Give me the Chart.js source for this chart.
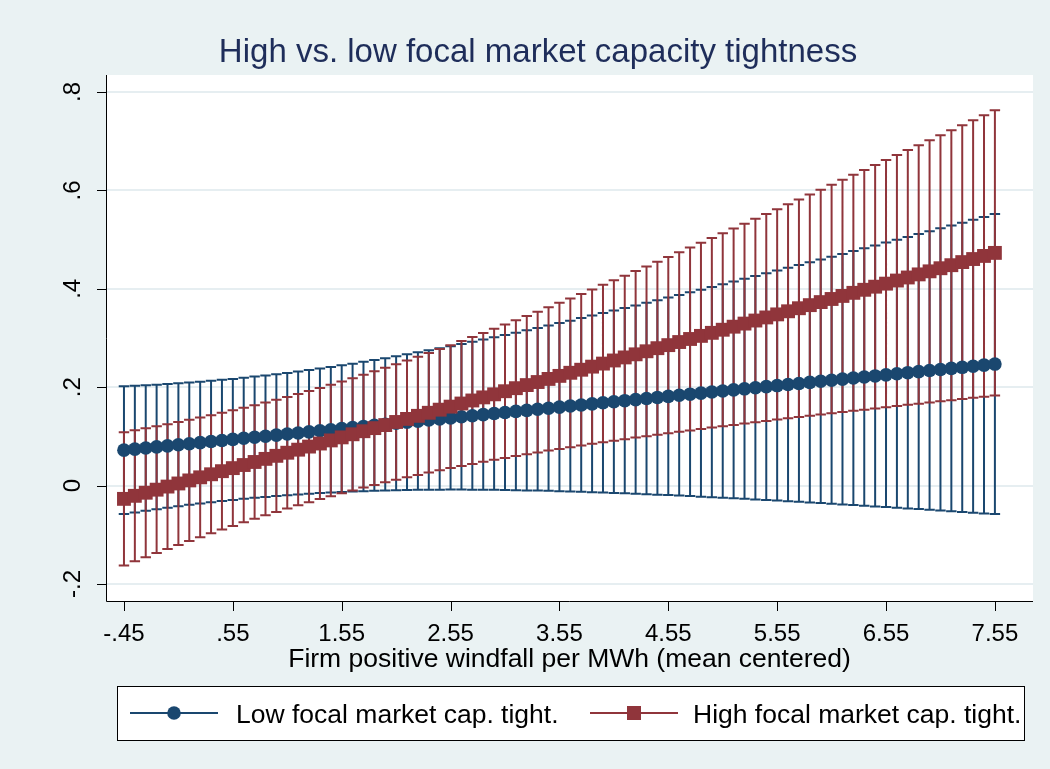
<!DOCTYPE html>
<html>
<head>
<meta charset="utf-8">
<title>High vs. low focal market capacity tightness</title>
<script src="https://cdn.jsdelivr.net/npm/chart.js@4.4.1/dist/chart.umd.min.js"></script>
<style>
  html, body { margin: 0; padding: 0; background: #eaf2f3; }
  canvas { display: block; }
</style>
</head>
<body>
<canvas id="chart" width="1050" height="769"></canvas>
<script>
// Values of the windfall variable at which the margins are evaluated
const xValues = [
  -0.45, -0.35, -0.25, -0.15, -0.05, 0.05, 0.15, 0.25, 0.35, 0.45,
  0.55, 0.65, 0.75, 0.85, 0.95, 1.05, 1.15, 1.25, 1.35, 1.45,
  1.55, 1.65, 1.75, 1.85, 1.95, 2.05, 2.15, 2.25, 2.35, 2.45,
  2.55, 2.65, 2.75, 2.85, 2.95, 3.05, 3.15, 3.25, 3.35, 3.45,
  3.55, 3.65, 3.75, 3.85, 3.95, 4.05, 4.15, 4.25, 4.35, 4.45,
  4.55, 4.65, 4.75, 4.85, 4.95, 5.05, 5.15, 5.25, 5.35, 5.45,
  5.55, 5.65, 5.75, 5.85, 5.95, 6.05, 6.15, 6.25, 6.35, 6.45,
  6.55, 6.65, 6.75, 6.85, 6.95, 7.05, 7.15, 7.25, 7.35, 7.45,
  7.55
];

// Low focal market capacity tightness: point estimates and 95% CI
const lowEst = [
  0.0720, 0.0742, 0.0764, 0.0786, 0.0808, 0.0829, 0.0851, 0.0873, 0.0895, 0.0917,
  0.0939, 0.0961, 0.0983, 0.1004, 0.1026, 0.1048, 0.1070, 0.1092, 0.1114, 0.1136,
  0.1158, 0.1179, 0.1201, 0.1223, 0.1245, 0.1267, 0.1289, 0.1311, 0.1333, 0.1354,
  0.1376, 0.1398, 0.1420, 0.1442, 0.1464, 0.1486, 0.1508, 0.1529, 0.1551, 0.1573,
  0.1595, 0.1617, 0.1639, 0.1661, 0.1683, 0.1704, 0.1726, 0.1748, 0.1770, 0.1792,
  0.1814, 0.1836, 0.1858, 0.1879, 0.1901, 0.1923, 0.1945, 0.1967, 0.1989, 0.2011,
  0.2033, 0.2054, 0.2076, 0.2098, 0.2120, 0.2142, 0.2164, 0.2186, 0.2208, 0.2229,
  0.2251, 0.2273, 0.2295, 0.2317, 0.2339, 0.2361, 0.2383, 0.2404, 0.2426, 0.2448,
  0.2470
];
const lowLo = [
  -0.0580, -0.0546, -0.0513, -0.0480, -0.0449, -0.0421, -0.0392, -0.0365, -0.0339, -0.0315,
  -0.0291, -0.0269, -0.0249, -0.0230, -0.0212, -0.0195, -0.0180, -0.0165, -0.0152, -0.0141,
  -0.0130, -0.0121, -0.0113, -0.0106, -0.0099, -0.0094, -0.0090, -0.0086, -0.0084, -0.0083,
  -0.0082, -0.0082, -0.0083, -0.0084, -0.0086, -0.0089, -0.0093, -0.0098, -0.0102, -0.0107,
  -0.0113, -0.0119, -0.0126, -0.0133, -0.0140, -0.0149, -0.0157, -0.0166, -0.0175, -0.0184,
  -0.0193, -0.0203, -0.0214, -0.0225, -0.0236, -0.0247, -0.0258, -0.0269, -0.0281, -0.0293,
  -0.0305, -0.0318, -0.0331, -0.0343, -0.0356, -0.0369, -0.0382, -0.0395, -0.0409, -0.0423,
  -0.0437, -0.0450, -0.0464, -0.0478, -0.0492, -0.0507, -0.0521, -0.0536, -0.0551, -0.0566,
  -0.0580
];
const lowHi = [
  0.2020, 0.2030, 0.2041, 0.2052, 0.2065, 0.2079, 0.2094, 0.2111, 0.2129, 0.2149,
  0.2169, 0.2191, 0.2215, 0.2238, 0.2264, 0.2291, 0.2320, 0.2349, 0.2380, 0.2413,
  0.2446, 0.2479, 0.2515, 0.2552, 0.2589, 0.2628, 0.2668, 0.2708, 0.2750, 0.2791,
  0.2834, 0.2878, 0.2923, 0.2968, 0.3014, 0.3061, 0.3109, 0.3156, 0.3204, 0.3253,
  0.3303, 0.3353, 0.3404, 0.3455, 0.3506, 0.3557, 0.3609, 0.3662, 0.3715, 0.3768,
  0.3821, 0.3875, 0.3930, 0.3983, 0.4038, 0.4093, 0.4148, 0.4203, 0.4259, 0.4315,
  0.4371, 0.4426, 0.4483, 0.4539, 0.4596, 0.4653, 0.4710, 0.4767, 0.4825, 0.4881,
  0.4939, 0.4996, 0.5054, 0.5112, 0.5170, 0.5229, 0.5287, 0.5344, 0.5403, 0.5462,
  0.5520
];

// High focal market capacity tightness: point estimates and 95% CI
const highEst = [
  -0.0270, -0.0208, -0.0145, -0.0083, -0.0020, 0.0043, 0.0105, 0.0168, 0.0230, 0.0293,
  0.0355, 0.0418, 0.0480, 0.0543, 0.0605, 0.0668, 0.0730, 0.0793, 0.0855, 0.0918,
  0.0980, 0.1043, 0.1105, 0.1168, 0.1230, 0.1293, 0.1355, 0.1418, 0.1480, 0.1543,
  0.1605, 0.1668, 0.1730, 0.1793, 0.1855, 0.1918, 0.1980, 0.2043, 0.2105, 0.2168,
  0.2230, 0.2293, 0.2355, 0.2418, 0.2480, 0.2543, 0.2605, 0.2668, 0.2730, 0.2793,
  0.2855, 0.2918, 0.2980, 0.3043, 0.3105, 0.3168, 0.3230, 0.3293, 0.3355, 0.3418,
  0.3480, 0.3543, 0.3605, 0.3668, 0.3730, 0.3793, 0.3855, 0.3918, 0.3980, 0.4043,
  0.4105, 0.4168, 0.4230, 0.4293, 0.4355, 0.4418, 0.4480, 0.4543, 0.4605, 0.4668,
  0.4730
];
const highLo = [
  -0.1625, -0.1540, -0.1455, -0.1372, -0.1289, -0.1208, -0.1127, -0.1049, -0.0971, -0.0895,
  -0.0820, -0.0747, -0.0674, -0.0604, -0.0535, -0.0468, -0.0402, -0.0338, -0.0275, -0.0215,
  -0.0155, -0.0098, -0.0041, 0.0014, 0.0066, 0.0118, 0.0168, 0.0217, 0.0264, 0.0311,
  0.0355, 0.0399, 0.0441, 0.0483, 0.0523, 0.0563, 0.0601, 0.0639, 0.0675, 0.0712,
  0.0746, 0.0781, 0.0814, 0.0848, 0.0880, 0.0913, 0.0944, 0.0975, 0.1005, 0.1035,
  0.1065, 0.1094, 0.1122, 0.1151, 0.1179, 0.1207, 0.1234, 0.1262, 0.1288, 0.1315,
  0.1341, 0.1368, 0.1393, 0.1419, 0.1444, 0.1470, 0.1494, 0.1520, 0.1544, 0.1569,
  0.1593, 0.1618, 0.1641, 0.1666, 0.1689, 0.1713, 0.1737, 0.1761, 0.1784, 0.1807,
  0.1830
];
const highHi = [
  0.1085, 0.1125, 0.1165, 0.1207, 0.1249, 0.1293, 0.1337, 0.1384, 0.1431, 0.1480,
  0.1530, 0.1582, 0.1634, 0.1689, 0.1745, 0.1803, 0.1862, 0.1923, 0.1985, 0.2050,
  0.2115, 0.2183, 0.2251, 0.2322, 0.2394, 0.2468, 0.2542, 0.2619, 0.2696, 0.2775,
  0.2855, 0.2937, 0.3019, 0.3103, 0.3187, 0.3273, 0.3359, 0.3447, 0.3535, 0.3624,
  0.3714, 0.3805, 0.3896, 0.3988, 0.4080, 0.4173, 0.4266, 0.4361, 0.4455, 0.4551,
  0.4645, 0.4742, 0.4838, 0.4935, 0.5031, 0.5129, 0.5226, 0.5324, 0.5422, 0.5521,
  0.5619, 0.5718, 0.5817, 0.5917, 0.6016, 0.6116, 0.6216, 0.6316, 0.6416, 0.6517,
  0.6617, 0.6718, 0.6819, 0.6920, 0.7021, 0.7123, 0.7223, 0.7325, 0.7426, 0.7529,
  0.7630
];

// Axis ticks and labels
const xTickValues = [-0.45, 0.55, 1.55, 2.55, 3.55, 4.55, 5.55, 6.55, 7.55];
const xTickLabels = ['-.45', '.55', '1.55', '2.55', '3.55', '4.55', '5.55', '6.55', '7.55'];
const yTickValues = [-0.2, 0, 0.2, 0.4, 0.6, 0.8];
const yTickLabels = ['-.2', '0', '.2', '.4', '.6', '.8'];

const titleText = 'High vs. low focal market capacity tightness';
const xAxisTitle = 'Firm positive windfall per MWh (mean centered)';
const seriesNames = ['Low focal market cap. tight.', 'High focal market cap. tight.'];

const BLUE = '#1a476f';
const RED = '#90353b';
const FONT = '"Liberation Sans", Arial, Helvetica, sans-serif';
const CAP_HALF = 0.048; // half width of a CI cap, in x units

// Range bars with caps, as one broken line per series (null = pen up)
function capBars(lo, hi) {
  const pts = [];
  xValues.forEach((x, i) => {
    pts.push({ x: x - CAP_HALF, y: lo[i] }, { x: x + CAP_HALF, y: lo[i] }, { x: x, y: null });
    pts.push({ x: x - CAP_HALF, y: hi[i] }, { x: x + CAP_HALF, y: hi[i] }, { x: x, y: null });
    pts.push({ x: x, y: lo[i] }, { x: x, y: hi[i] }, { x: x, y: null });
  });
  return pts;
}
function pointsOf(values) {
  return xValues.map((x, i) => ({ x: x, y: values[i] }));
}

const datasets = [
  {
    label: seriesNames[1],
    data: pointsOf(highEst),
    borderColor: RED, backgroundColor: RED, borderWidth: 2,
    pointStyle: 'rect', pointRadius: 9.8, pointBorderWidth: 0,
    tension: 0, order: 0
  },
  {
    label: seriesNames[0],
    data: pointsOf(lowEst),
    borderColor: BLUE, backgroundColor: BLUE, borderWidth: 2,
    pointStyle: 'circle', pointRadius: 6.8, pointBorderWidth: 0,
    tension: 0, order: 1
  },
  {
    label: 'high CI',
    data: capBars(highLo, highHi),
    borderColor: RED, borderWidth: 2, pointRadius: 0,
    spanGaps: false, tension: 0, order: 2
  },
  {
    label: 'low CI',
    data: capBars(lowLo, lowHi),
    borderColor: BLUE, borderWidth: 2, pointRadius: 0,
    spanGaps: false, tension: 0, order: 3
  }
];

// Frame, axes, labels, title and legend in the Stata style
const stataFrame = {
  id: 'stataFrame',
  beforeDraw(chart) {
    const { ctx, chartArea: a } = chart;
    ctx.save();
    ctx.fillStyle = '#eaf2f3';
    ctx.fillRect(0, 0, chart.width, chart.height);
    ctx.fillStyle = '#ffffff';
    ctx.fillRect(a.left, a.top, a.right - a.left, a.bottom - a.top);
    ctx.restore();
  },
  beforeDatasetsDraw(chart) {
    const { ctx, chartArea: a, scales } = chart;
    ctx.save();
    ctx.strokeStyle = '#e6eef1';
    ctx.lineWidth = 2;
    yTickValues.forEach(v => {
      const y = Math.round(scales.y.getPixelForValue(v));
      ctx.beginPath();
      ctx.moveTo(a.left, y);
      ctx.lineTo(a.right, y);
      ctx.stroke();
    });
    ctx.restore();
  },
  afterDraw(chart) {
    const { ctx, chartArea: a, scales } = chart;
    ctx.save();

    // axis lines and ticks
    ctx.strokeStyle = '#000000';
    ctx.lineWidth = 1;
    ctx.beginPath();
    ctx.moveTo(a.left + 0.5, a.top);
    ctx.lineTo(a.left + 0.5, a.bottom + 0.5);
    ctx.lineTo(a.right, a.bottom + 0.5);
    yTickValues.forEach(v => {
      const y = Math.round(scales.y.getPixelForValue(v)) + 0.5;
      ctx.moveTo(a.left - 9, y);
      ctx.lineTo(a.left + 0.5, y);
    });
    xTickValues.forEach(v => {
      const x = Math.round(scales.x.getPixelForValue(v)) + 0.5;
      ctx.moveTo(x, a.bottom);
      ctx.lineTo(x, a.bottom + 10);
    });
    ctx.stroke();

    // tick labels
    ctx.fillStyle = '#000000';
    ctx.font = '24px ' + FONT;
    ctx.textAlign = 'center';
    ctx.textBaseline = 'alphabetic';
    xTickValues.forEach((v, i) => {
      ctx.fillText(xTickLabels[i], scales.x.getPixelForValue(v), a.bottom + 40);
    });
    yTickValues.forEach((v, i) => {
      ctx.save();
      ctx.translate(a.left - 26, scales.y.getPixelForValue(v));
      ctx.rotate(-Math.PI / 2);
      ctx.fillText(yTickLabels[i], 0, 0);
      ctx.restore();
    });

    // axis title
    ctx.font = '26.5px ' + FONT;
    ctx.fillText(xAxisTitle, (a.left + a.right) / 2, a.bottom + 66);

    // chart title
    ctx.fillStyle = '#1e2d5a';
    ctx.font = '33px ' + FONT;
    ctx.fillText(titleText, 538, 62);

    // legend
    const lx = 117, ly = 686, lw = 907, lh = 54;
    ctx.fillStyle = '#ffffff';
    ctx.fillRect(lx, ly, lw, lh);
    ctx.strokeStyle = '#000000';
    ctx.lineWidth = 1;
    ctx.strokeRect(lx + 0.5, ly + 0.5, lw, lh);
    const my = ly + lh / 2;
    const items = [
      { x0: 130, x1: 218, color: BLUE, shape: 'circle', tx: 236, text: seriesNames[0] },
      { x0: 590, x1: 678, color: RED, shape: 'square', tx: 693, text: seriesNames[1] }
    ];
    items.forEach(it => {
      ctx.strokeStyle = it.color;
      ctx.lineWidth = 2;
      ctx.beginPath();
      ctx.moveTo(it.x0, my);
      ctx.lineTo(it.x1, my);
      ctx.stroke();
      ctx.fillStyle = it.color;
      const cx = (it.x0 + it.x1) / 2;
      if (it.shape === 'circle') {
        ctx.beginPath();
        ctx.arc(cx, my, 6.8, 0, Math.PI * 2);
        ctx.fill();
      } else {
        ctx.fillRect(cx - 7, my - 7, 14, 14);
      }
      ctx.fillStyle = '#000000';
      ctx.font = '26.5px ' + FONT;
      ctx.textAlign = 'left';
      ctx.fillText(it.text, it.tx, my + 9.5);
    });

    ctx.restore();
  }
};

new Chart(document.getElementById('chart').getContext('2d'), {
  type: 'line',
  data: { datasets: datasets },
  options: {
    responsive: false,
    animation: false,
    devicePixelRatio: 1,
    events: [],
    layout: { padding: { left: 106, right: 17, top: 75, bottom: 168 } },
    plugins: {
      legend: { display: false },
      title: { display: false },
      tooltip: { enabled: false }
    },
    scales: {
      x: { type: 'linear', min: -0.615, max: 7.90, display: false },
      y: { type: 'linear', min: -0.2346, max: 0.8346, display: false }
    }
  },
  plugins: [stataFrame]
});
</script>
</body>
</html>
